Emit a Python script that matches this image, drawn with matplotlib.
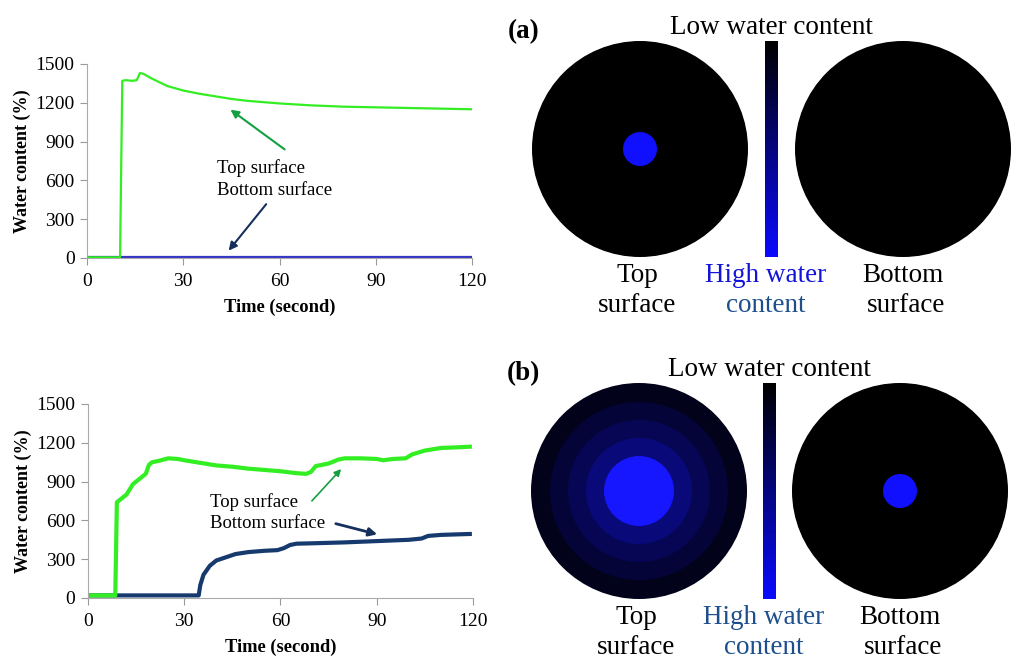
import matplotlib
matplotlib.use("Agg")
import matplotlib.pyplot as plt
from matplotlib.patches import Circle
import numpy as np

plt.rcParams['font.family'] = ['Liberation Serif', 'DejaVu Serif']

# (a) water content vs time
a_top_t = [0, 10.3, 11, 12, 14, 15.5, 16.5, 17.5, 20, 25, 30, 35, 40, 45, 50, 60, 70, 80, 90, 100, 110, 120]
a_top_w = [5, 5, 1370, 1375, 1370, 1375, 1430, 1425, 1390, 1330, 1295, 1270, 1250, 1230, 1215, 1195, 1180, 1170, 1165, 1160, 1155, 1150]
a_bot_t = [0, 120]
a_bot_w = [5, 5]

# (b) water content vs time
b_top_t = [1, 8.5, 9, 10, 12, 14, 16, 18, 19, 20, 22, 25, 28, 30, 35, 40, 45, 50, 55, 60, 65, 68, 69.5, 71, 75, 78, 80, 85, 90, 92, 95, 99, 101, 105, 110, 115, 119]
b_top_w = [20, 20, 740, 760, 800, 880, 920, 960, 1030, 1050, 1060, 1080, 1075, 1065, 1045, 1025, 1015, 1000, 990, 980, 965, 960, 975, 1020, 1040, 1070, 1080, 1080, 1075, 1065, 1075, 1080, 1110, 1140, 1160, 1165, 1170]
b_bot_t = [1, 34.5, 35, 36, 38, 40, 43, 46, 50, 55, 59, 61, 63, 65, 70, 80, 90, 100, 104, 106, 110, 119]
b_bot_w = [20, 20, 100, 180, 250, 290, 315, 340, 355, 365, 370, 385, 410, 420, 423, 430, 440, 450, 460, 480, 488, 495]

xticks = [0, 30, 60, 90, 120]
yticks = [0, 300, 600, 900, 1200, 1500]

# schematic circles: radii (px) and colours
a_top_rings = [108, 17]
a_top_cols = ['#000000', '#1010ff']
a_bot_rings = [108]
a_bot_cols = ['#000000']
b_top_rings = [108, 89, 71, 53, 35]
b_top_cols = ['#02021a', '#040438', '#060655', '#09097a', '#1616ff']
b_bot_rings = [108, 17]
b_bot_cols = ['#000000', '#1010ff']

green = '#33ee22'
W, H = 1015, 665
fig = plt.figure(figsize=(W / 100, H / 100), dpi=100)


def line_axes(x0, x1, y0, y1):
    ax = fig.add_axes([x0 / W, 1 - y0 / H, (x1 - x0) / W, (y0 - y1) / H])
    ax.set_xlim(0, 120)
    ax.set_ylim(0, 1500)
    ax.set_xticks(xticks)
    ax.set_yticks(yticks)
    ax.tick_params(labelsize=14, color='#999999', length=5, direction='out', pad=4)
    ax.tick_params(axis='x', pad=6)
    for s in ['top', 'right']:
        ax.spines[s].set_visible(False)
    for s in ['left', 'bottom']:
        ax.spines[s].set_color('#aaaaaa')
    ax.set_xlabel('Time (second)', fontsize=13.3, fontweight='bold', labelpad=6)
    ax.set_ylabel('Water content (%)', fontsize=13, fontweight='bold', labelpad=3)
    return ax


ax1 = line_axes(87, 472, 258, 64)
ax1.plot(a_bot_t, a_bot_w, color='#3535c8', lw=1.6, zorder=2)
ax1.plot(a_top_t, a_top_w, color=green, lw=1.6, zorder=3)
ax1.text(40.5, 696, 'Top surface', fontsize=13.5, va='center')
ax1.text(40.5, 520, 'Bottom surface', fontsize=13.5, va='center')
ax1.annotate('', xy=(44, 1160), xytext=(62.3, 827),
             arrowprops=dict(arrowstyle='-|>', color='#14a040', lw=1.5, mutation_scale=12))
ax1.annotate('', xy=(43.6, 40), xytext=(56.4, 433),
             arrowprops=dict(arrowstyle='-|>', color='#16305e', lw=1.5, mutation_scale=12))

ax2 = line_axes(88, 473, 598, 404)
ax2.plot(b_bot_t, b_bot_w, color='#173a6e', lw=3, zorder=2)
ax2.plot(b_top_t, b_top_w, color=green, lw=3, zorder=3)
ax2.text(38, 742, 'Top surface', fontsize=13.5, va='center')
ax2.text(38, 578, 'Bottom surface', fontsize=13.5, va='center')
ax2.annotate('', xy=(79.5, 1013), xytext=(69.2, 735),
             arrowprops=dict(arrowstyle='-|>', color='#14a040', lw=1.2, mutation_scale=10))
ax2.annotate('', xy=(91, 487), xytext=(76.4, 580),
             arrowprops=dict(arrowstyle='-|>', color='#16305e', lw=2, mutation_scale=12))

# right side: pixel-space axes for the schematic
axr = fig.add_axes([500 / W, 0, (W - 500) / W, 1])
axr.set_xlim(500, W)
axr.set_ylim(H, 0)
axr.axis('off')

grad = np.linspace(0, 1, 200).reshape(-1, 1)
cmap = matplotlib.colors.LinearSegmentedColormap.from_list('wc', ['#000000', '#0a0aff'])


def panel(label, cy, lcx, rcx, lr, lc, rr, rc, cbx, hi_col, ct_col):
    for r, c in zip(lr, lc):
        axr.add_patch(Circle((lcx, cy), r, color=c, lw=0))
    for r, c in zip(rr, rc):
        axr.add_patch(Circle((rcx, cy), r, color=c, lw=0))
    axr.imshow(grad, cmap=cmap, extent=[cbx, cbx + 13, cy + 108, cy - 108], aspect='auto')
    axr.text(lcx - 132, cy - 117, label, fontsize=19.5, fontweight='bold', va='center', ha='left')
    axr.text(cbx + 6, cy - 122, 'Low water content', fontsize=19.5, ha='center', va='center')
    axr.text(lcx - 3, cy + 126, 'Top', fontsize=19.5, ha='center', va='center')
    axr.text(lcx - 3, cy + 156, 'surface', fontsize=19.5, ha='center', va='center')
    axr.text(cbx + 1, cy + 126, 'High water', fontsize=19.5, ha='center', va='center', color=hi_col)
    axr.text(cbx + 1, cy + 156, 'content', fontsize=19.5, ha='center', va='center', color=ct_col)
    axr.text(rcx, cy + 126, 'Bottom', fontsize=19.5, ha='center', va='center')
    axr.text(rcx + 3, cy + 156, 'surface', fontsize=19.5, ha='center', va='center')


panel('(a)', 149, 640, 903, a_top_rings, a_top_cols, a_bot_rings, a_bot_cols, 765, '#1414d8', '#1d4f8c')
panel('(b)', 491, 639, 900, b_top_rings, b_top_cols, b_bot_rings, b_bot_cols, 763, '#1d4f8c', '#1d4f8c')
axr.set_xlim(500, W)
axr.set_ylim(H, 0)

fig.savefig('out.png', dpi=100)
